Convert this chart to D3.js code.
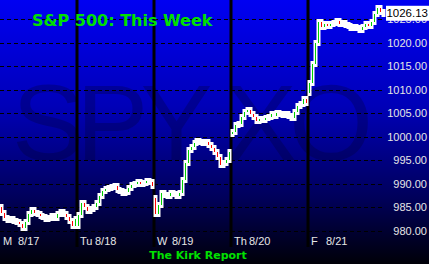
<!DOCTYPE html>
<html>
<head>
<meta charset="utf-8">
<script src="https://cdn.jsdelivr.net/npm/d3@7"></script>
<style>
  html, body { margin: 0; padding: 0; background: #000; }
  svg { display: block; }
</style>
</head>
<body>
<div id="chart"></div>
<script>
// Weekly intraday S&P 500 chart, 15-minute bars, five sessions
const dayLabels = ['M', 'Tu', 'W', 'Th', 'F'];
const dayDates = ['8/17', '8/18', '8/19', '8/20', '8/21'];
const dayOpens = [985.0, 981.0, 987.0, 1000.5, 1009.3];

const monClose = [983.8, 982.7, 982.3, 982.5, 982.1, 981.9, 981.4, 980.6, 981.9, 983.6, 984.4, 983.8, 983.6,
  983.1, 982.9, 982.5, 982.7, 983.1, 982.7, 983.6, 984.0, 983.6, 982.9, 982.1, 981.0, 982.5];
const tueClose = [983.3, 985.9, 985.0, 984.2, 984.6, 985.0, 985.9, 987.4, 988.4, 988.9, 989.1, 989.3, 989.5,
  988.7, 988.4, 988.0, 988.2, 989.1, 989.7, 989.9, 990.4, 989.9, 990.1, 990.6, 990.4, 989.5];
const wedClose = [983.6, 985.5, 988.0, 987.6, 987.4, 988.0, 987.8, 987.4, 988.0, 990.8, 994.4, 997.2, 997.8,
  998.7, 999.1, 998.9, 998.7, 998.9, 998.2, 997.6, 996.7, 995.7, 994.0, 994.4, 995.0, 996.7];
const thuClose = [1001.0, 1002.5, 1002.7, 1004.2, 1005.2, 1005.7, 1004.8, 1004.2, 1003.3, 1003.8, 1003.5, 1004.0, 1004.2,
  1004.8, 1004.4, 1005.0, 1004.8, 1004.6, 1004.8, 1004.4, 1004.0, 1005.2, 1006.5, 1006.9, 1008.0, 1007.2];
const friClose = [1011.4, 1015.5, 1020.0, 1024.4, 1023.3, 1024.0, 1023.5, 1024.0, 1024.2, 1024.6, 1024.0, 1024.2, 1023.8,
  1023.5, 1023.1, 1023.3, 1023.1, 1022.7, 1023.3, 1024.0, 1023.5, 1024.4, 1026.1, 1027.4, 1026.5, 1026.13];

const yTicks = [980, 985, 990, 995, 1000, 1005, 1010, 1015, 1020, 1025];
const lastPrice = 1026.13;
const watermark = 'SPY XO';
const title = 'S&P 500: This Week';
const footer = 'The Kirk Report';

const width = 429, height = 264;
const plotRight = 385;
const barsPerDay = monClose.length;
const labelFont = 'Liberation Sans, Arial, sans-serif';

// flatten into bars with open = previous close (day open at session start)
const bars = [];
[monClose, tueClose, wedClose, thuClose, friClose].forEach((closes, d) => {
  closes.forEach((c, j) => {
    const o = j === 0 ? dayOpens[d] : closes[j - 1];
    bars.push({ i: d * barsPerDay + j, o, c });
  });
});

const x = d3.scaleLinear().domain([0, bars.length]).range([0, plotRight]);
const y = d3.scaleLinear().domain([980, 1025]).range([230.7, 19.1]);

const svg = d3.select('#chart')
  .append('svg')
  .attr('width', width)
  .attr('height', height)
  .attr('viewBox', [0, 0, width, height]);

const defs = svg.append('defs');
const grad = defs.append('linearGradient')
  .attr('id', 'bg')
  .attr('x1', 0).attr('y1', 0).attr('x2', 0).attr('y2', 1);
grad.append('stop').attr('offset', '0%').attr('stop-color', '#0000f2');
grad.append('stop').attr('offset', '40%').attr('stop-color', '#0000b8');
grad.append('stop').attr('offset', '75%').attr('stop-color', '#00005a');
grad.append('stop').attr('offset', '100%').attr('stop-color', '#000008');

svg.append('rect')
  .attr('width', width)
  .attr('height', height)
  .attr('fill', 'url(#bg)');

// faint symbol watermark
svg.append('text')
  .attr('x', 12)
  .attr('y', 160)
  .attr('font-family', labelFont)
  .attr('font-size', 108)
  .attr('fill', 'rgba(0,0,30,0.25)')
  .attr('textLength', 361)
  .attr('lengthAdjust', 'spacing')
  .text(watermark);

// dashed price grid
svg.append('g')
  .selectAll('line')
  .data(yTicks)
  .join('line')
  .attr('x1', 0)
  .attr('x2', plotRight)
  .attr('y1', d => Math.round(y(d)) + 0.5)
  .attr('y2', d => Math.round(y(d)) + 0.5)
  .attr('stroke', '#000')
  .attr('stroke-width', 1)
  .attr('stroke-dasharray', '4,3');

// session separators
svg.append('g')
  .selectAll('line')
  .data(d3.range(1, dayLabels.length))
  .join('line')
  .attr('x1', d => x(d * barsPerDay))
  .attr('x2', d => x(d * barsPerDay))
  .attr('y1', 0)
  .attr('y2', 247)
  .attr('stroke', '#000')
  .attr('stroke-width', 3);

// bars: white body with thin coloured core
const barsG = svg.append('g');
barsG.selectAll('rect.body')
  .data(bars)
  .join('rect')
  .attr('class', 'body')
  .attr('x', d => Math.round(x(d.i)) - 0.5)
  .attr('width', 4)
  .attr('y', d => Math.round(y(Math.max(d.o, d.c))) - 3)
  .attr('height', d => Math.abs(Math.round(y(d.o)) - Math.round(y(d.c))) + 6)
  .attr('fill', '#fff');

barsG.selectAll('rect.core')
  .data(bars.filter(d => Math.abs(d.c - d.o) >= 0.5))
  .join('rect')
  .attr('class', 'core')
  .attr('x', d => Math.round(x(d.i)) + 1)
  .attr('width', 1)
  .attr('y', d => Math.round(y(Math.max(d.o, d.c))))
  .attr('height', d => Math.max(2, Math.abs(Math.round(y(d.o)) - Math.round(y(d.c)))))
  .attr('fill', d => d.c > d.o ? '#00d000' : '#ff0000');

// price labels on the right
svg.append('g')
  .selectAll('text')
  .data(yTicks)
  .join('text')
  .attr('x', 427)
  .attr('y', d => y(d))
  .attr('text-anchor', 'end')
  .attr('dominant-baseline', 'central')
  .attr('font-family', labelFont)
  .attr('font-size', 11)
  .attr('fill', '#e6e6e6')
  .text(d => d3.format('.2f')(d));

// last price box
const ly = y(lastPrice);
svg.append('rect')
  .attr('x', 386)
  .attr('y', ly - 8)
  .attr('width', 43)
  .attr('height', 15)
  .attr('fill', '#fff');
svg.append('text')
  .attr('x', 428)
  .attr('y', ly - 0.5)
  .attr('text-anchor', 'end')
  .attr('dominant-baseline', 'central')
  .attr('font-family', labelFont)
  .attr('font-size', 11.5)
  .attr('fill', '#000')
  .text(d3.format('.2f')(lastPrice));

// day labels
const dayG = svg.append('g')
  .attr('font-family', labelFont)
  .attr('font-size', 11)
  .attr('fill', '#e6e6e6');
dayG.selectAll('text.day')
  .data(dayLabels)
  .join('text')
  .attr('class', 'day')
  .attr('x', (d, i) => x(i * barsPerDay) + 3)
  .attr('y', 245)
  .text(d => d);
dayG.selectAll('text.date')
  .data(dayDates)
  .join('text')
  .attr('class', 'date')
  .attr('x', (d, i) => x(i * barsPerDay) + 18)
  .attr('y', 245)
  .text(d => d);

// title and footer
svg.append('text')
  .attr('x', 32)
  .attr('y', 26)
  .attr('font-family', 'Verdana, DejaVu Sans, sans-serif')
  .attr('font-weight', 700)
  .attr('font-size', 16)
  .attr('fill', '#00e000')
  .text(title);

svg.append('text')
  .attr('x', 198)
  .attr('y', 259)
  .attr('text-anchor', 'middle')
  .attr('font-family', 'Verdana, DejaVu Sans, sans-serif')
  .attr('font-weight', 700)
  .attr('font-size', 11)
  .attr('fill', '#00e000')
  .text(footer);
</script>
</body>
</html>
